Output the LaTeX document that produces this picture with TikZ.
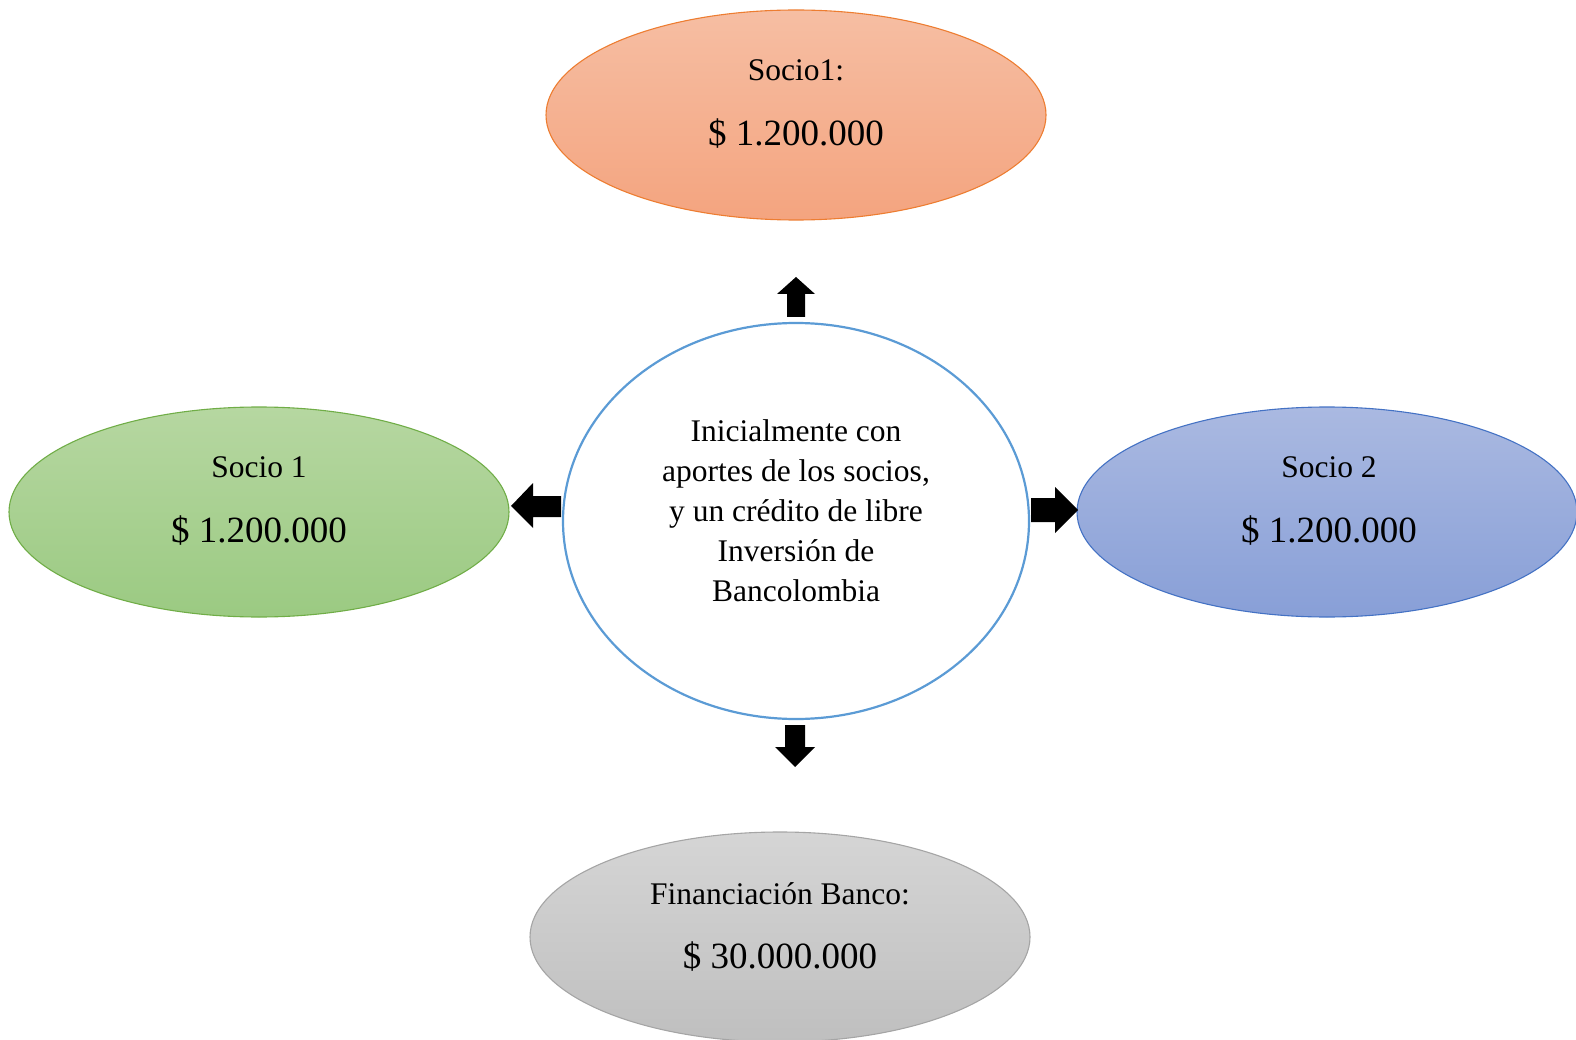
\documentclass[tikz,border=0pt]{standalone}
\usepackage{fontspec}
\setmainfont{Liberation Serif}
\usetikzlibrary{shapes.geometric}
\definecolor{orgA}{HTML}{F6BEA3}
\definecolor{orgB}{HTML}{F4A47F}
\definecolor{orgE}{HTML}{ED7D31}
\definecolor{grnA}{HTML}{B6D7A1}
\definecolor{grnB}{HTML}{9BCA82}
\definecolor{grnE}{HTML}{70AD47}
\definecolor{bluA}{HTML}{AAB9E1}
\definecolor{bluB}{HTML}{889FD7}
\definecolor{bluE}{HTML}{4472C4}
\definecolor{gryA}{HTML}{D5D5D5}
\definecolor{gryB}{HTML}{BFBFBF}
\definecolor{gryE}{HTML}{A5A5A5}
\definecolor{ctrE}{HTML}{5B9BD5}
\begin{document}
\begin{tikzpicture}[x=1pt,y=-1pt,
  oval/.style={ellipse, inner sep=0pt, minimum width=500pt, minimum height=210pt, line width=1.1pt},
  small/.style={font=\fontsize{31.5}{40}\selectfont},
  big/.style={font=\fontsize{37}{44}\selectfont},
  blockarrow/.style={fill=black}
]
\useasboundingbox (0,0) rectangle (1576,1040);
% ellipses
\node[oval, draw=orgE, top color=orgA, bottom color=orgB] (top) at (796,115) {};
\node[oval, draw=grnE, top color=grnA, bottom color=grnB] (left) at (259,512) {};
\node[oval, draw=bluE, top color=bluA, bottom color=bluB] (right) at (1327,512) {};
\node[oval, draw=gryE, top color=gryA, bottom color=gryB] (bottom) at (780,937) {};
\node[ellipse, inner sep=0pt, minimum width=466pt, minimum height=396pt, draw=ctrE, line width=2.2pt, fill=white] (center) at (796,521) {};
% texts
\node[small] (t1) at (796,70) {Socio1:};
\node[big] (t2) at (796,134) {\$ 1.200.000};
\node[small] (l1) at (259,467) {Socio 1};
\node[big] (l2) at (259,531) {\$ 1.200.000};
\node[small] (r1) at (1329,467) {Socio 2};
\node[big] (r2) at (1329,531) {\$ 1.200.000};
\node[small] (b1) at (780,894) {Financiación Banco:};
\node[big] (b2) at (780,957) {\$ 30.000.000};
\node[small, align=center] (c1) at (796,511) {Inicialmente con\\aportes de los socios,\\y un crédito de libre\\Inversión de\\Bancolombia};
% block arrows
\fill[blockarrow] (787,317)--(787,294)--(777,294)--(796,277)--(815,294)--(805,294)--(805,317)--cycle;
\fill[blockarrow] (561,496)--(533,496)--(533,483)--(511,506)--(533,528)--(533,517)--(561,517)--cycle;
\fill[blockarrow] (1031,498)--(1055,498)--(1055,487)--(1078,510)--(1055,533)--(1055,522)--(1031,522)--cycle;
\fill[blockarrow] (785,725)--(785,747)--(775,747)--(795,767)--(815,747)--(805,747)--(805,725)--cycle;
\end{tikzpicture}
\end{document}
